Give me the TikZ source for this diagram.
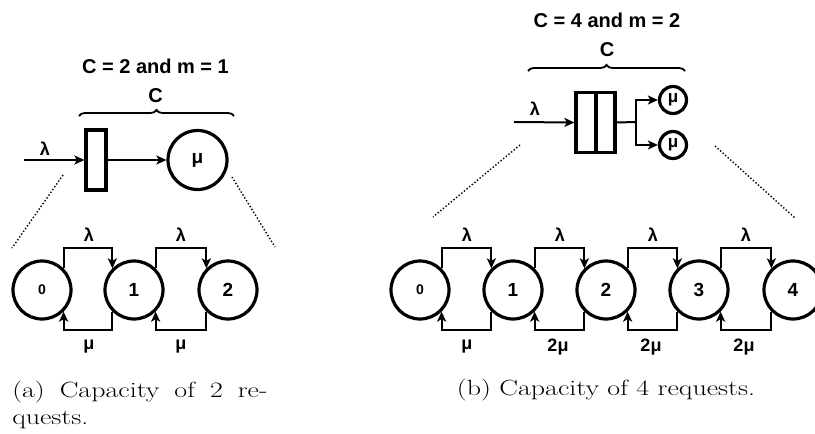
\documentclass[tikz,border=0pt]{standalone}
\usepackage{fontspec}
\setsansfont{Liberation Sans}
\usetikzlibrary{arrows.meta,decorations.pathreplacing}
\begin{document}
\begin{tikzpicture}[x=1pt,y=-1pt,
  lab/.style={font=\sffamily\bfseries\fontsize{20}{22}\selectfont, inner sep=0pt},
  glab/.style={font=\sffamily\bfseries\fontsize{18}{20}\selectfont, inner sep=0pt},
  state/.style={circle, draw, line width=3.2pt, minimum size=58pt, inner sep=0pt, font=\sffamily\bfseries\fontsize{19}{20}\selectfont},
  srv/.style={circle, draw, line width=3.2pt, minimum size=27pt, inner sep=0pt, font=\sffamily\bfseries\fontsize{17}{18}\selectfont},
  qbox/.style={draw, line width=3.2pt, minimum width=20pt, minimum height=60pt, inner sep=0pt},
  arr/.style={line width=2pt, -{Stealth[length=10pt,width=9pt,inset=2.5pt]}},
  ln/.style={line width=2pt},
  dots/.style={line width=1.4pt, dotted},
  brc/.style={line width=1.8pt, decorate, decoration={brace, amplitude=6pt}},
  captxt/.style={font=\fontsize{22}{27}\selectfont, inner sep=0pt, xscale=1.27, anchor=base west}
]
\useasboundingbox (0,0) rectangle (815,434);
\clip (0,0) rectangle (815,434);

% ---------- left panel ----------
\node[lab] (ttlA) at (155.5,66.5) {C = 2 and m = 1};
\node[lab] (cA) at (155.5,96) {C};
\draw[brc] (79,116) -- (234,116);
\coordinate (inA) at (24,160);
\node[glab] (lamA) at (45,149) {λ};
\node[qbox] (qA) at (96,160) {};
\node[state, minimum size=59pt] (muA) at (197.5,160) {μ};
\draw[arr] (inA) -- (qA.west);
\draw[arr] (qA.east) -- (muA.west);
\coordinate (dA1) at (63,175);
\coordinate (dA2) at (12,248);
\coordinate (dA3) at (232,177);
\coordinate (dA4) at (275,247);
\draw[dots] (dA1) -- (dA2);
\draw[dots] (dA3) -- (dA4);

\node[state, font=\sffamily\bfseries\fontsize{14}{15}\selectfont] (a0) at (42,290) {0};
\node[state] (a1) at (134,290) {1};
\node[state] (a2) at (228,290) {2};
\foreach \u/\v in {a0/a1, a1/a2}{
  \draw[arr] (\u.45) -- ++(0,-20.5) -| (\v.135);
  \draw[arr] (\v.225) -- ++(0,18.5) -| (\u.315);
}
\node[glab] (la1) at (89,235) {λ};
\node[glab] (la2) at (181,235) {λ};
\node[glab] (ma1) at (89,347) {μ};
\node[glab] (ma2) at (181,347) {μ};

\node[captxt, text width=201pt, align=justify] (capA) at (12,397) {(a) Capacity of 2 re-\linebreak quests.};

% ---------- right panel ----------
\node[lab] (ttlB) at (607,20) {C = 4 and m = 2};
\node[lab] (cB) at (607,50) {C};
\draw[brc] (528,71) -- (685,71);
\coordinate (inB) at (514,122);
\node[glab] (lamB) at (535,109) {λ};
\node[qbox, minimum width=20pt] (qB1) at (586,122.5) {};
\node[qbox, minimum width=19pt] (qB2) at (605.5,122.5) {};
\draw[arr] (inB) -- (qB1.west);
\coordinate (br) at (636,122);
\node[srv] (s1) at (673,100) {μ};
\node[srv] (s2) at (673,145) {μ};
\draw[ln] (qB2.east) -- (br);
\draw[arr] (br) |- (s1.west);
\draw[arr] (br) |- (s2.west);
\coordinate (dB1) at (520,145);
\coordinate (dB2) at (433,217);
\coordinate (dB3) at (715,146);
\coordinate (dB4) at (795,218);
\draw[dots] (dB1) -- (dB2);
\draw[dots] (dB3) -- (dB4);

\node[state, font=\sffamily\bfseries\fontsize{14}{15}\selectfont] (b0) at (420,290) {0};
\node[state] (b1) at (513,290) {1};
\node[state] (b2) at (606,290) {2};
\node[state] (b3) at (699,290) {3};
\node[state] (b4) at (793,290) {4};
\foreach \u/\v in {b0/b1, b1/b2, b2/b3, b3/b4}{
  \draw[arr] (\u.45) -- ++(0,-20.5) -| (\v.135);
  \draw[arr] (\v.225) -- ++(0,18.5) -| (\u.315);
}
\node[glab] (lb1) at (467,235) {λ};
\node[glab] (lb2) at (560,235) {λ};
\node[glab] (lb3) at (653,235) {λ};
\node[glab] (lb4) at (746,235) {λ};
\node[glab] (mb1) at (467,347) {μ};
\node[glab] (mb2) at (558,347) {2μ};
\node[glab] (mb3) at (651,347) {2μ};
\node[glab] (mb4) at (744,347) {2μ};

\node[captxt, anchor=base] (capB) at (606,395) {(b) Capacity of 4 requests.};
\end{tikzpicture}
\end{document}
